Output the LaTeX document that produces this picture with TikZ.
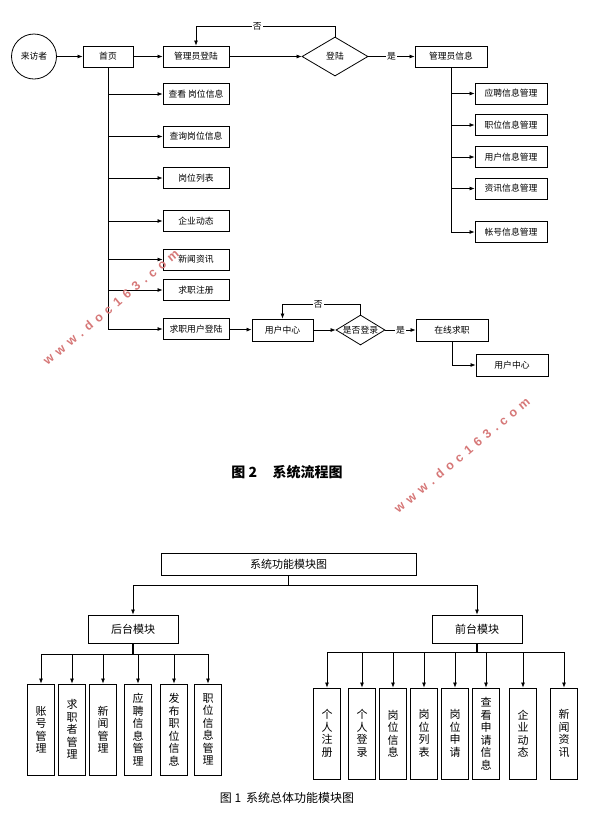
\documentclass[tikz,border=0pt]{standalone}
\usepackage{fontspec}
\setmainfont{Liberation Sans}
\newfontfamily\cjk{Noto Sans CJK SC}
\newfontfamily\wmfont[LetterSpace=42]{Liberation Sans}
\usetikzlibrary{shapes.geometric,arrows.meta}
\definecolor{wmred}{RGB}{214,120,120}
\tikzset{
  box/.style={draw, line width=0.9pt, inner sep=0pt, minimum height=21, font=\cjk\fontsize{8.8}{10}\selectfont},
  decide/.style={draw, diamond, line width=0.8pt, inner sep=0pt, label={[font=\cjk\fontsize{8.8}{10}\selectfont]center:#1}},
  vbox/.style={draw, line width=0.9pt, inner sep=0pt, minimum width=27, minimum height=91, align=center, font=\cjk\fontsize{11}{12.5}\selectfont},
  arr/.style={-{Latex[length=5pt,width=4pt]}, line width=0.7pt},
  lbl/.style={fill=white, inner sep=1pt, font=\cjk\fontsize{8.8}{10}\selectfont},
  wmtext/.style={text=wmred, rotate=40, font=\wmfont\bfseries\fontsize{12.5}{14}\selectfont}
}
\begin{document}
\begin{tikzpicture}[x=1pt,y=-1pt]
\useasboundingbox (0,0) rectangle (598,831);

%flow top row
\node[draw, circle, line width=0.8pt, minimum size=45, inner sep=0pt, font=\cjk\fontsize{8.8}{10}\selectfont] (visitor) at (34,56.5) {来访者};
\node[box, minimum width=50] (home) at (108,56.5) {首页};
\node[box, minimum width=66] (admin) at (196,56.5) {管理员登陆};
\node[decide=登陆, minimum width=66, minimum height=39] (login) at (335,56.5) {};
\node[box, minimum width=72] (admininfo) at (451,56.5) {管理员信息};
\draw[arr] (visitor) -- (home);
\draw[arr] (home) -- (admin);
\draw[arr] (admin) -- (login);
\draw[arr] (login) -- node[lbl] {是} (admininfo);
\draw[arr] (login.north) -- ++(0,-10) -| node[lbl, pos=0.28] {否} (admin.north);

%admin branch
\node[box, minimum width=72] (m1) at (511,93.5) {应聘信息管理};
\node[box, minimum width=72] (m2) at (511,125) {职位信息管理};
\node[box, minimum width=72] (m3) at (511,157) {用户信息管理};
\node[box, minimum width=72] (m4) at (511,188.5) {资讯信息管理};
\node[box, minimum width=72] (m5) at (511,232) {帐号信息管理};
\draw[line width=0.7pt] (admininfo) -- (admininfo |- m5);
\foreach \i in {1,...,5}
  \draw[arr] (admininfo |- m\i) -- (m\i);

%visitor branch
\node[box, minimum width=66] (p1) at (196,94) {查看 岗位信息};
\node[box, minimum width=66] (p2) at (196,136.5) {查询岗位信息};
\node[box, minimum width=66] (p3) at (196,178) {岗位列表};
\node[box, minimum width=66] (p4) at (196,221) {企业动态};
\node[box, minimum width=66] (p5) at (196,259.5) {新闻资讯};
\node[box, minimum width=66] (p6) at (196,290) {求职注册};
\node[box, minimum width=66] (p7) at (196,329) {求职用户登陆};
\draw[line width=0.7pt] (home) -- (home |- p7);
\foreach \i in {1,...,7}
  \draw[arr] (home |- p\i) -- (p\i);

%job seeker login
\node[box, minimum width=61, minimum height=22] (ucenter) at (282.5,330) {用户中心};
\node[decide=是否登录, minimum width=49, minimum height=30] (ask) at (360.5,330) {};
\node[box, minimum width=72, minimum height=22] (online) at (452,330) {在线求职};
\node[box, minimum width=72, minimum height=22] (ucenter2) at (512,365) {用户中心};
\draw[arr] (p7) -- (ucenter);
\draw[arr] (ucenter) -- (ask);
\draw[arr] (ask) -- node[lbl] {是} (online);
\draw[arr] (ask.north) -- ++(0,-10) -| node[lbl, pos=0.27] {否} (ucenter.north);
\draw[arr] (online) |- (ucenter2);

\node[font=\cjk\bfseries\fontsize{14}{16}\selectfont] (cap2) at (287,472) {图 2\hspace{1.1em}系统流程图};

%module tree
\node[box, minimum width=255, minimum height=22, font=\cjk\fontsize{11}{13}\selectfont] (top) at (288.5,564) {系统功能模块图};
\node[box, minimum width=90, minimum height=28, font=\cjk\fontsize{11}{13}\selectfont] (back) at (133,629) {后台模块};
\node[box, minimum width=90, minimum height=28, font=\cjk\fontsize{11}{13}\selectfont] (front) at (477,629) {前台模块};
\coordinate (tb) at (288.5,585);
\draw[line width=0.7pt] (top) -- (tb);
\draw[arr] (tb) -| (back);
\draw[arr] (tb) -| (front);

%back end
\node[vbox] (b1) at (41,729.5) {账\\号\\管\\理};
\node[vbox] (b2) at (72,729.5) {求\\职\\者\\管\\理};
\node[vbox] (b3) at (103,729.5) {新\\闻\\管\\理};
\node[vbox] (b4) at (138,729.5) {应\\聘\\信\\息\\管\\理};
\node[vbox] (b5) at (174,729.5) {发\\布\\职\\位\\信\\息};
\node[vbox] (b6) at (208,729.5) {职\\位\\信\\息\\管\\理};
\coordinate (bb) at (133,654);
\draw[line width=1.4pt] (back) -- (bb);
\foreach \i in {1,...,6}
  \draw[arr] (bb) -| (b\i);

%front end
\node[vbox] (f1) at (327,733.5) {个\\人\\注\\册};
\node[vbox] (f2) at (362,733.5) {个\\人\\登\\录};
\node[vbox] (f3) at (393,733.5) {岗\\位\\信\\息};
\node[vbox] (f4) at (424,733.5) {岗\\位\\列\\表};
\node[vbox] (f5) at (455,733.5) {岗\\位\\申\\请};
\node[vbox] (f6) at (486,733.5) {查\\看\\申\\请\\信\\息};
\node[vbox] (f7) at (523,733.5) {企\\业\\动\\态};
\node[vbox] (f8) at (564,733.5) {新\\闻\\资\\讯};
\coordinate (fb) at (477,652);
\draw[line width=1.4pt] (front) -- (fb);
\foreach \i in {1,...,8}
  \draw[arr] (fb) -| (f\i);

\node[font=\cjk\fontsize{12}{14}\selectfont] (cap1) at (287,798) {图 1\hspace{0.4em}系统总体功能模块图};

%watermarks
\node[wmtext] (wm1) at (111,307) {www.doc163.com};
\node[wmtext] (wm2) at (462,455) {www.doc163.com};
\end{tikzpicture}
\end{document}
